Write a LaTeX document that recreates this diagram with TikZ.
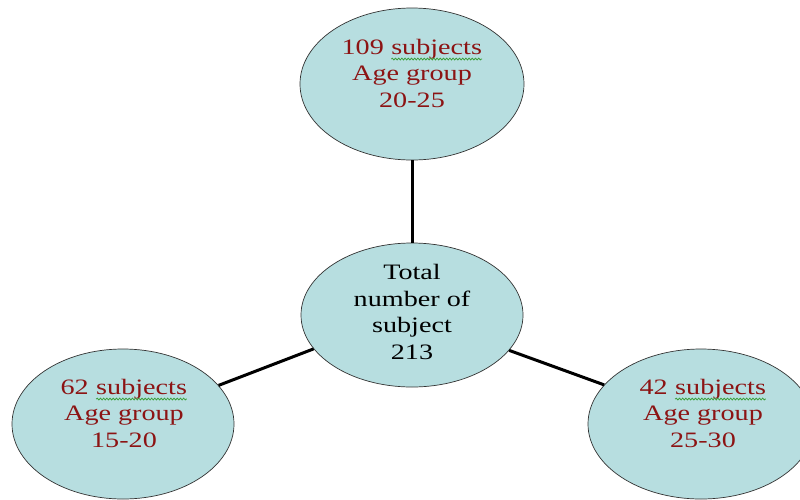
\documentclass[tikz,border=0pt]{standalone}
\usepackage{fontspec}
\setmainfont{Liberation Serif}[FakeStretch=1.28]
\usetikzlibrary{shapes.geometric,decorations.pathmorphing}
\definecolor{bubble}{RGB}{183,222,224}
\definecolor{redtxt}{RGB}{140,20,20}
\definecolor{squigcol}{RGB}{60,160,60}
\newcommand\squig[1]{\tikz[baseline=(w.base),x=1pt,y=1pt]{\node[inner sep=0pt,outer sep=0pt,draw=none,fill=none](w){#1};
  \draw[squigcol,line width=0.8pt,decorate,decoration={snake,amplitude=0.9pt,segment length=3.2pt}] ([yshift=-5pt]w.base west) -- ([yshift=-5pt]w.base east);}}
\begin{document}
\begin{tikzpicture}[x=1pt,y=-1pt,
  bub/.style={ellipse,draw=black!80,line width=0.7pt,fill=bubble,inner sep=0pt},
  lbl/.style={align=center,font=\fontsize{22}{26.5}\selectfont,inner sep=0pt},
  conn/.style={line width=3pt,black}]
\clip (0,0) rectangle (800,499);
\useasboundingbox (0,0) rectangle (800,499);
\node[bub,minimum width=224pt,minimum height=152pt] (top) at (412,84) {};
\node[bub,minimum width=222pt,minimum height=144pt] (mid) at (412,315) {};
\node[bub,minimum width=222pt,minimum height=150pt] (left) at (123,424) {};
\node[bub,minimum width=226pt,minimum height=150pt] (right) at (701,424) {};
\draw[conn] (top.south) -- (mid.north);
\draw[conn] (mid.199) -- (left.22);
\draw[conn] (mid.340) -- (right.158);
\node[lbl,text=redtxt] (ttop) at (412,73) {109 \squig{subjects}\\Age group\\20-25};
\node[lbl,text=black] (tmid) at (412,312) {Total\\number of\\subject\\213};
\node[lbl,text=redtxt] (tleft) at (124,413) {62 \squig{subjects}\\Age group\\15-20};
\node[lbl,text=redtxt] (tright) at (703,413) {42 \squig{subjects}\\Age group\\25-30};
\end{tikzpicture}
\end{document}
